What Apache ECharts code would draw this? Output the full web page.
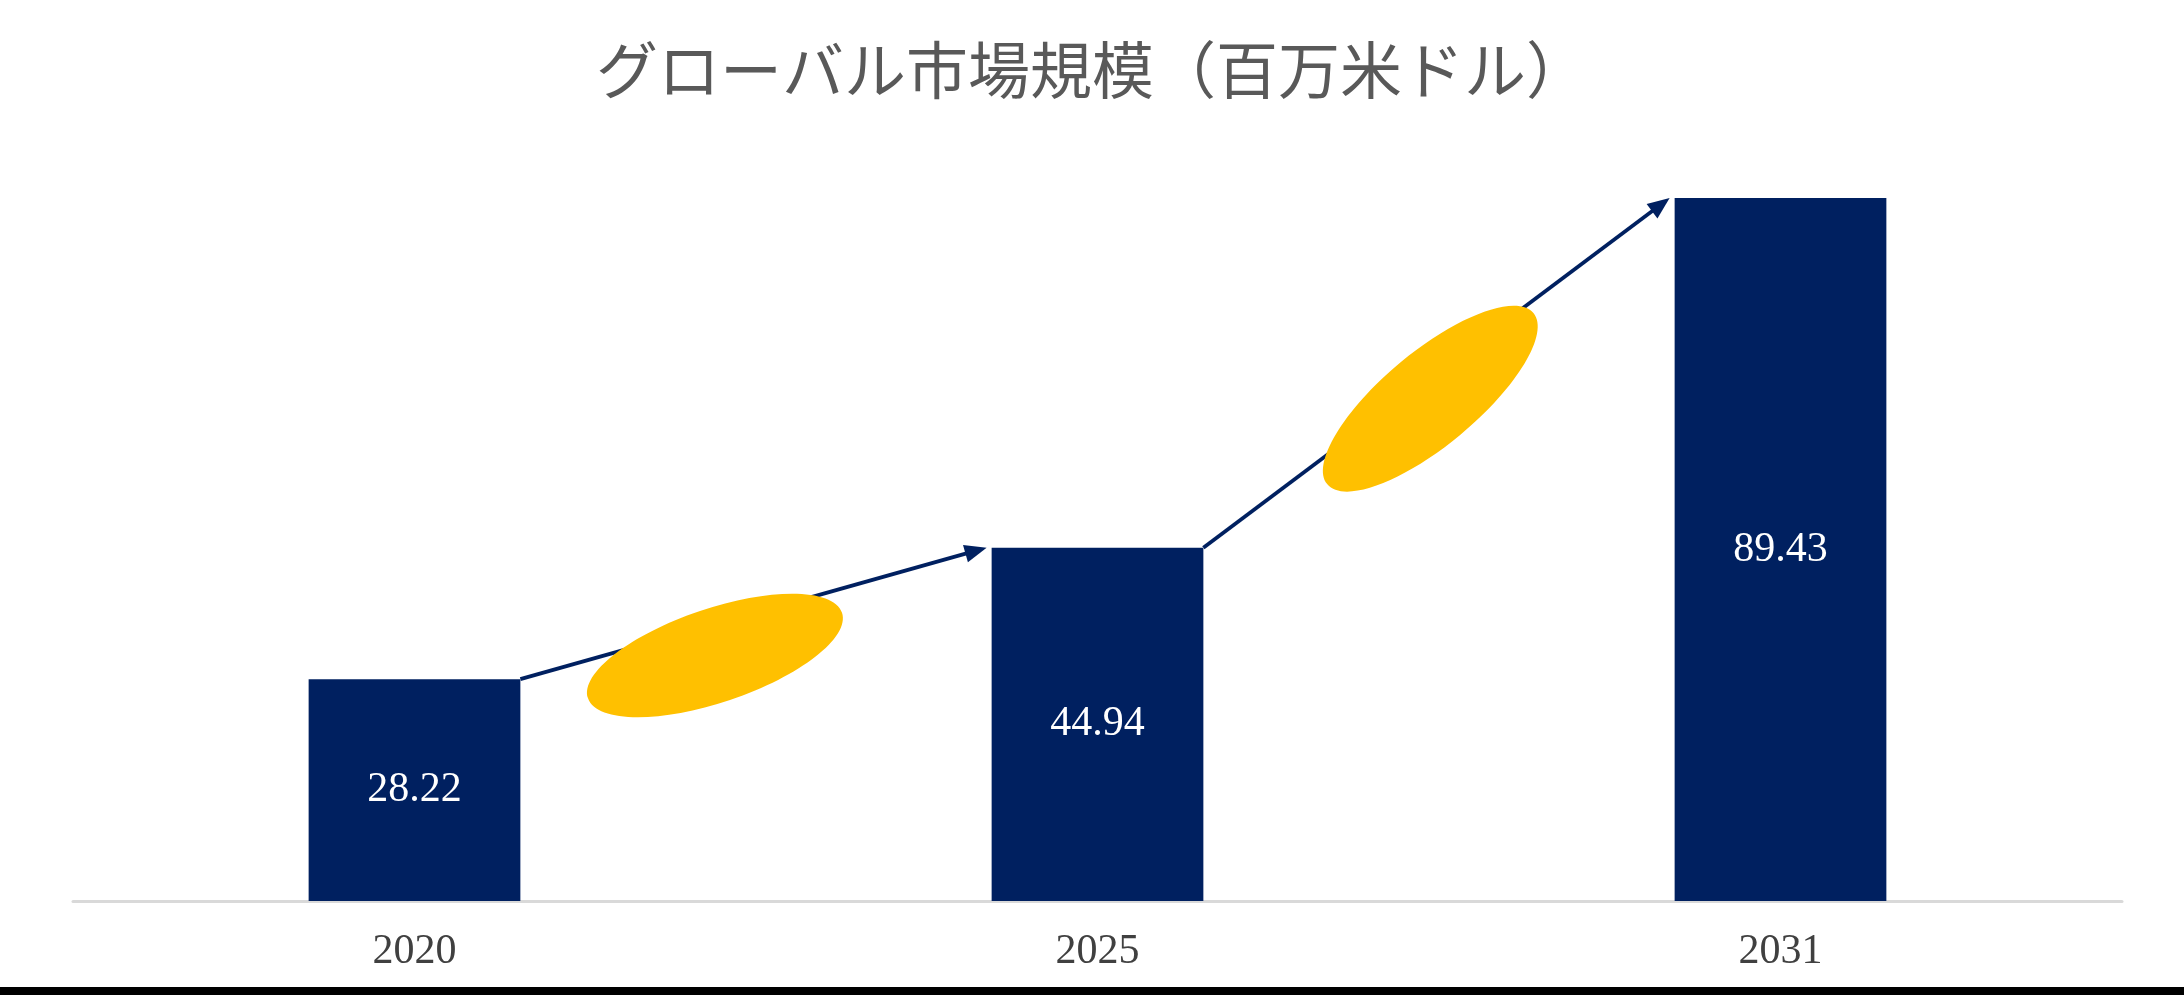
<!DOCTYPE html>
<html>
<head>
<meta charset="utf-8">
<title>グローバル市場規模</title>
<script src="https://cdn.jsdelivr.net/npm/echarts@6/dist/echarts.min.js"></script>
<style>
  html, body { margin: 0; padding: 0; background: #fff; }
  #chart { width: 2184px; height: 995px; }
</style>
</head>
<body>
<div id="chart"></div>
<script>
// データ
var years = ['2020', '2025', '2031'];
var marketSize = [28.22, 44.94, 89.43];

var BAR_RATIO = 0.31;       // 棒の幅（カテゴリ幅に対する割合）
var NAVY = '#002060';
var GOLD = '#FFC000';
// 楕円の位置（矢印上の位置 t と矢印からのずれ）
var bubbleAt = [[0.40, 30], [0.465, 17]];

// 矢印用のデータ：[区間番号, 始点の値, 終点の値]
var segments = [];
for (var i = 0; i < marketSize.length - 1; i++) {
  segments.push([i, marketSize[i], marketSize[i + 1]]);
}

function renderArrow(params, api) {
  var idx = api.value(0);
  var from = api.coord([idx, api.value(1)]);
  var to = api.coord([idx + 1, api.value(2)]);
  var half = api.size([1, 0])[0] * BAR_RATIO / 2;

  var x0 = from[0] + half, y0 = from[1];
  var x1 = to[0] - half - 5, y1 = to[1];
  var dx = x1 - x0, dy = y1 - y0;
  var len = Math.sqrt(dx * dx + dy * dy);
  var ux = dx / len, uy = dy / len;
  var nx = -uy, ny = ux;

  var headLen = 22, headHalf = 9;
  var bx = x1 - ux * headLen, by = y1 - uy * headLen;

  var pos = bubbleAt[idx] || [0.45, 20];
  var cx = x0 + dx * pos[0] + nx * pos[1];
  var cy = y0 + dy * pos[0] + ny * pos[1];

  return {
    type: 'group',
    children: [
      {
        type: 'line',
        shape: { x1: x0, y1: y0, x2: bx + ux * 2, y2: by + uy * 2 },
        style: { stroke: NAVY, lineWidth: 3.8 }
      },
      {
        type: 'polygon',
        shape: { points: [[x1, y1], [bx + nx * headHalf, by + ny * headHalf], [bx - nx * headHalf, by - ny * headHalf]] },
        style: { fill: NAVY }
      },
      {
        type: 'ellipse',
        x: cx,
        y: cy,
        rotation: -Math.atan2(dy, dx) + 0.05,
        shape: { cx: 0, cy: 0, rx: 134, ry: 47 },
        style: { fill: GOLD }
      }
    ]
  };
}

var chart = echarts.init(document.getElementById('chart'));

var option = {
  backgroundColor: '#fff',
  animation: false,
  title: {
    text: 'グローバル市場規模（百万米ドル）',
    left: 'center',
    top: 34,
    textStyle: {
      fontFamily: 'Noto Sans CJK JP',
      fontSize: 62,
      fontWeight: 'normal',
      color: '#595959'
    }
  },
  grid: { left: 73, right: 62, top: 198, bottom: 94 },
  xAxis: {
    type: 'category',
    data: years,
    axisLine: { lineStyle: { color: '#d9d9d9', width: 3 } },
    axisTick: { show: false },
    axisLabel: {
      margin: 30,
      fontFamily: 'Liberation Serif',
      fontSize: 42,
      color: '#404040'
    }
  },
  yAxis: {
    type: 'value',
    min: 0,
    max: 'dataMax',
    show: false,
    splitLine: { show: false }
  },
  series: [
    {
      type: 'bar',
      data: marketSize,
      barWidth: (BAR_RATIO * 100) + '%',
      itemStyle: { color: NAVY },
      label: {
        show: true,
        position: 'inside',
        fontFamily: 'Liberation Serif',
        fontSize: 42,
        color: '#fff'
      }
    },
    {
      type: 'custom',
      data: segments,
      encode: { x: 0, y: [1, 2] },
      renderItem: renderArrow,
      z: 3,
      silent: true
    }
  ],
  graphic: [
    {
      type: 'rect',
      left: 0,
      bottom: 0,
      shape: { width: 2184, height: 8 },
      style: { fill: '#000' }
    }
  ]
};

chart.setOption(option);
</script>
</body>
</html>
